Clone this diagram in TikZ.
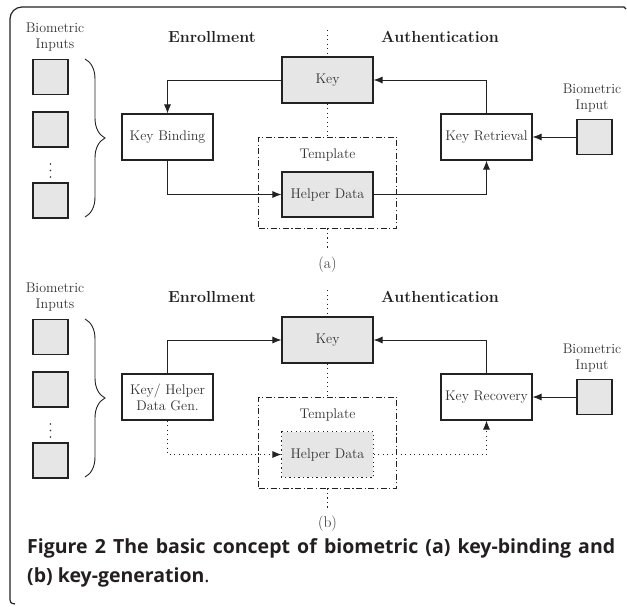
\documentclass[tikz,border=0pt]{standalone}
\usepackage{fontspec}
\newfontfamily\capfont{Open Sans}
\usetikzlibrary{arrows.meta,decorations.pathreplacing}
\definecolor{ln}{HTML}{222222}
\definecolor{gf}{HTML}{E6E6E6}
\definecolor{tx}{HTML}{333333}
\definecolor{ct}{HTML}{231F20}
\begin{document}
\begin{tikzpicture}[x=1pt,y=-1pt,
 box/.style={draw=ln,line width=1.1pt,minimum width=91pt,minimum height=46pt,inner sep=0pt,text=tx,font=\fontsize{14}{16}\selectfont,align=center},
 gbox/.style={box,fill=gf},
 sq/.style={draw=ln,line width=1.1pt,fill=gf,minimum size=35pt,inner sep=0pt},
 lbl/.style={text=tx,font=\fontsize{14}{16}\selectfont,align=center,inner sep=0pt},
 sublbl/.style={lbl,font=\fontsize{15.5}{18}\selectfont},
 hdr/.style={text=ln,font=\fontsize{16}{19}\selectfont\bfseries,inner sep=0pt},
 conn/.style={draw=ln,line width=0.9pt,-{Latex[length=9pt,width=7pt]}},
 dconn/.style={conn,dash pattern=on 1.2pt off 3.3pt},
 vdot/.style={draw=ln,line width=1pt,dash pattern=on 1.2pt off 3.3pt},
 tmpl/.style={draw=ln,line width=0.9pt,dash pattern=on 6pt off 2.5pt on 1.2pt off 2.5pt,minimum width=138pt,minimum height=91pt,inner sep=0pt},
 brc/.style={draw=ln,line width=0.9pt,decorate,decoration={brace,amplitude=20pt}},
 dotc/.style={fill=tx,circle,inner sep=0pt,minimum size=1.6pt},
 captext/.style={text=ct,font=\capfont\fontsize{19.5}{22}\selectfont,inner sep=0pt,anchor=base west},
]
\useasboundingbox (0,0) rectangle (627,606);
% frame
\draw[ln,line width=1.2pt] (15,604) .. controls (10,603) .. (10,596) -- (10,19) arc[start angle=180,end angle=270,radius=12] -- (624,7) -- (626,9);

% ---------------- panel (a)
\node[lbl] (biLblA) at (55,37) {Biometric\\Inputs};
\node[hdr] (enA) at (212,37) {Enrollment};
\node[hdr] (auA) at (440,37) {Authentication};
\node[sq] (s1A) at (50.5,77) {};
\node[sq] (s2A) at (50.5,129.5) {};
\node[dotc] (d1A) at (50.5,164) {};
\node[dotc] (d2A) at (50.5,170.5) {};
\node[dotc] (d3A) at (50.5,177) {};
\node[sq] (s3A) at (50.5,200.5) {};
\coordinate (brTopA) at (85,59);
\coordinate (brBotA) at (85,217);
\draw[brc] (brTopA) -- (brBotA);
\node[box] (kbA) at (167.5,137) {Key Binding};
\node[gbox] (keyA) at (327.5,80) {Key};
\node[tmpl] (tmA) at (327.5,182.5) {};
\node[lbl] (tlA) at (327.5,155) {Template};
\node[gbox,minimum height=45pt] (hdA) at (327.5,194.5) {Helper Data};
\node[box] (krA) at (486.5,137) {Key Retrieval};
\node[lbl] (biLbl2A) at (592,98) {Biometric\\Input};
\node[sq] (biA) at (594.5,137) {};
\node[sublbl] (capA) at (327.5,265) {(a)};
\coordinate (vtA) at (327.5,30);
\coordinate (vbA) at (327.5,250);
\draw[vdot] (vtA) -- (keyA.north);
\draw[vdot] (keyA.south) -- (tmA.north);
\draw[vdot] (tmA.south) -- (vbA);
\draw[conn] (keyA.west) -| (kbA.north);
\draw[conn] (kbA.south) |- (hdA.west);
\draw[conn] (hdA.east) -| (krA.south);
\draw[conn] (krA.north) |- (keyA.east);
\draw[conn] (biA.west) -- (krA.east);

% ---------------- panel (b)
\begin{scope}[yshift=-260pt]
\node[lbl] (biLblB) at (55,37) {Biometric\\Inputs};
\node[hdr] (enB) at (212,37) {Enrollment};
\node[hdr] (auB) at (440,37) {Authentication};
\node[sq] (s1B) at (50.5,77) {};
\node[sq] (s2B) at (50.5,129.5) {};
\node[dotc] (d1B) at (50.5,164) {};
\node[dotc] (d2B) at (50.5,170.5) {};
\node[dotc] (d3B) at (50.5,177) {};
\node[sq] (s3B) at (50.5,200.5) {};
\coordinate (brTopB) at (85,59);
\coordinate (brBotB) at (85,217);
\draw[brc] (brTopB) -- (brBotB);
\node[box] (kbB) at (167.5,137) {Key/ Helper\\Data Gen.};
\node[gbox] (keyB) at (327.5,80) {Key};
\node[tmpl] (tmB) at (327.5,182.5) {};
\node[lbl] (tlB) at (327.5,155) {Template};
\node[gbox,minimum height=45pt,draw=none] (hdB) at (327.5,194.5) {Helper Data};
\draw[vdot,line width=1pt] (hdB.north west) rectangle (hdB.south east);
\node[box] (krB) at (486.5,137) {Key Recovery};
\node[lbl] (biLbl2B) at (592,98) {Biometric\\Input};
\node[sq] (biB) at (594.5,137) {};
\node[sublbl] (capB) at (327.5,264) {(b)};
\coordinate (vtB) at (327.5,30);
\coordinate (vbB) at (327.5,248);
\draw[vdot] (vtB) -- (keyB.north);
\draw[vdot] (keyB.south) -- (tmB.north);
\draw[vdot] (tmB.south) -- (vbB);
\draw[conn] (kbB.north) |- (keyB.west);
\draw[dconn] (kbB.south) |- (hdB.west);
\draw[dconn] (hdB.east) -| (krB.south);
\draw[conn] (krB.north) |- (keyB.east);
\draw[conn] (biB.west) -- (krB.east);
\end{scope}

% caption
\node[captext] (cap1) at (27,553) {\makebox[588pt][s]{\bfseries Figure 2 The basic concept of biometric (a) key-binding and}};
\node[captext] (cap2) at (27,582) {\bfseries (b) key-generation\mdseries .};
\end{tikzpicture}
\end{document}
